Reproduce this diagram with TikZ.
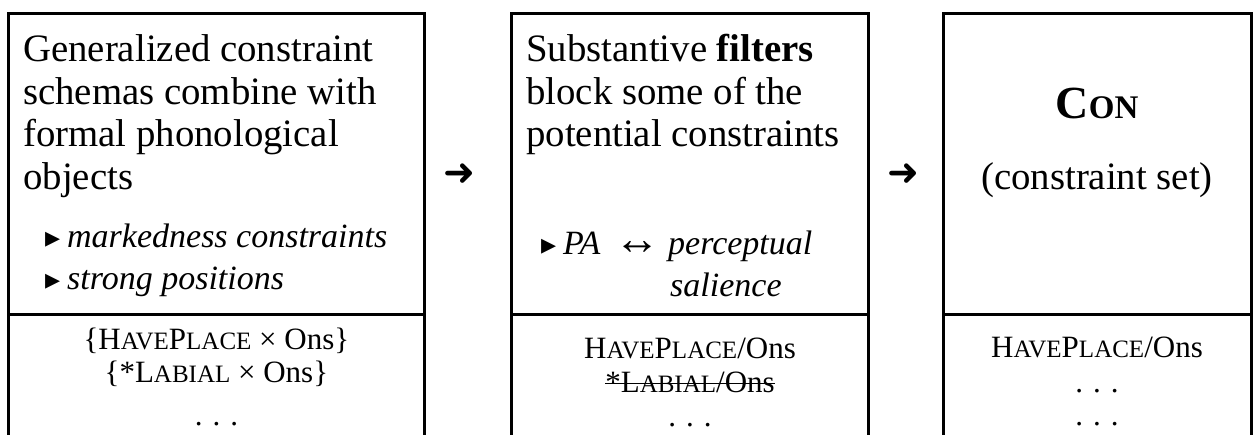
\documentclass[tikz,border=0pt]{standalone}
\usepackage{fontspec}
\setmainfont{Liberation Serif}
\newfontfamily\symfont{DejaVu Sans}
% small capitals for the constraint names
\newcommand\sm[1]{{\fontsize{25}{25}\selectfont #1}}
\newcommand\moredots{.\hspace{10pt}.\hspace{10pt}.}
\tikzset{
  frame/.style={line width=3.3pt, line join=miter},
  big/.style={inner sep=0pt, anchor=base west, font=\fontsize{38.8}{44}\selectfont},
  ital/.style={inner sep=0pt, anchor=base west, font=\fontsize{34}{40}\selectfont\itshape},
  tri/.style={inner sep=0pt, anchor=base west, font=\symfont\fontsize{30}{30}\selectfont},
  small/.style={inner sep=0pt, anchor=base, font=\fontsize{31}{34}\selectfont},
  arrowglyph/.style={inner sep=0pt, anchor=base, font=\symfont\fontsize{38}{38}\selectfont},
  strike/.style={line width=1.6pt},
}
\begin{document}
\begin{tikzpicture}[x=1pt,y=-1pt]
\useasboundingbox (0,0) rectangle (1253,435);

% three boxes, open at the bottom
\draw[frame] (8.5,435) -- (8.5,13.5) -- (424.3,13.5) -- (424.3,435);
\draw[frame] (8.5,314.3) -- (424.3,314.3);
\draw[frame] (511.7,435) -- (511.7,13.5) -- (868.3,13.5) -- (868.3,435);
\draw[frame] (511.7,314.3) -- (868.3,314.3);
\draw[frame] (943.3,435) -- (943.3,13.5) -- (1251.5,13.5) -- (1251.5,435);
\draw[frame] (943.3,314.3) -- (1251.5,314.3);

% first box
\node[big] (a1) at (23,62) {Generalized constraint};
\node[big] (a2) at (23,104.5) {schemas combine with};
\node[big] (a3) at (23,147) {formal phonological};
\node[big] (a4) at (23,189.5) {objects};
\node[tri] (ab1) at (45,248) {▸};
\node[ital] (ai1) at (67,248) {markedness constraints};
\node[tri] (ab2) at (45,290) {▸};
\node[ital] (ai2) at (67,290) {strong positions};
\node[small] (al1) at (216.4,350) {\{H\sm{AVE}P\sm{LACE} × Ons\}};
\node[small] (al2) at (216.4,383) {\{*L\sm{ABIAL} × Ons\}};
\node[small] (al3) at (216.4,425) {\moredots};

% second box
\node[big] (b1) at (526,62) {Substantive \textbf{filters}};
\node[big] (b2) at (526,104.5) {block some of the};
\node[big] (b3) at (526,147) {potential constraints};
\node[tri] (bb1) at (541,255) {▸};
\node[ital] (bi1) at (563,255) {PA};
\node[inner sep=0pt, anchor=base west, font=\fontsize{46}{46}\selectfont] (bi2) at (614,255) {↔};
\node[ital] (bi3) at (668,255) {perceptual};
\node[ital] (bi4) at (670,297) {salience};
\node[small] (bl1) at (690,359) {H\sm{AVE}P\sm{LACE}/Ons};
\node[small] (bl2) at (690,393) {*L\sm{ABIAL}/Ons};
\draw[strike] ([yshift=9.5pt]bl2.base west) -- ([yshift=9.5pt]bl2.base east);
\node[small] (bl3) at (690,426) {\moredots};

% third box
\node[inner sep=0pt, anchor=base, font=\fontsize{46}{48}\selectfont\bfseries] (c1) at (1097,119) {C{\fontsize{33}{33}\selectfont ON}};
\node[inner sep=0pt, anchor=base, font=\fontsize{38.8}{44}\selectfont] (c2) at (1097,190) {(constraint set)};
\node[small] (cl1) at (1097,358) {H\sm{AVE}P\sm{LACE}/Ons};
\node[small] (cl2) at (1097,392) {\moredots};
\node[small] (cl3) at (1097,425) {\moredots};

% arrows between the stages
\node[arrowglyph] (arr1) at (459,186) {➜};
\node[arrowglyph] (arr2) at (903,186) {➜};
\end{tikzpicture}
\end{document}
